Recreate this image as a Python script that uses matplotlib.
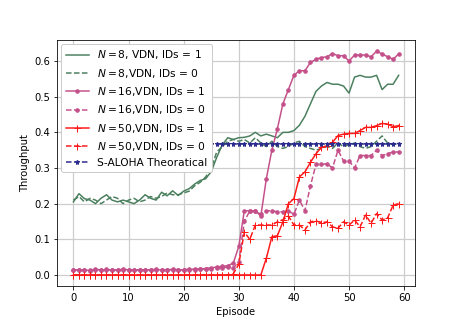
import numpy as np
import matplotlib
matplotlib.use("Agg")
import matplotlib.pyplot as plt

episodes = list(range(60))

n8_ids1 = [0.205, 0.228, 0.214, 0.21, 0.20, 0.215, 0.225, 0.21, 0.205, 0.21,
           0.205, 0.20, 0.21, 0.225, 0.215, 0.21, 0.232, 0.222, 0.236, 0.223,
           0.235, 0.242, 0.255, 0.265, 0.27, 0.29, 0.33, 0.365, 0.385, 0.38,
           0.385, 0.386, 0.39, 0.40, 0.39, 0.395, 0.39, 0.385, 0.40, 0.40,
           0.405, 0.42, 0.445, 0.48, 0.515, 0.53, 0.54, 0.535, 0.535, 0.53,
           0.51, 0.555, 0.56, 0.555, 0.555, 0.56, 0.52, 0.535, 0.535, 0.56]

n8_ids0 = [0.21, 0.22, 0.205, 0.215, 0.21, 0.20, 0.21, 0.22, 0.215, 0.20,
           0.21, 0.215, 0.205, 0.21, 0.22, 0.215, 0.22, 0.23, 0.225, 0.225,
           0.23, 0.235, 0.25, 0.26, 0.275, 0.30, 0.345, 0.36, 0.375, 0.38,
           0.375, 0.38, 0.37, 0.385, 0.37, 0.36, 0.375, 0.36, 0.355, 0.36,
           0.37, 0.375, 0.36, 0.355, 0.35, 0.355, 0.36, 0.355, 0.37, 0.36,
           0.365, 0.37, 0.36, 0.355, 0.36, 0.375, 0.39, 0.37, 0.365, 0.37]

n16_ids1 = [0.015, 0.013, 0.014, 0.012, 0.016, 0.014, 0.013, 0.015, 0.014, 0.016,
            0.014, 0.013, 0.015, 0.014, 0.015, 0.013, 0.015, 0.014, 0.016, 0.015,
            0.014, 0.015, 0.016, 0.017, 0.018, 0.02, 0.022, 0.024, 0.026, 0.033,
            0.08, 0.18, 0.18, 0.18, 0.165, 0.27, 0.35, 0.41, 0.48, 0.52,
            0.56, 0.573, 0.573, 0.596, 0.605, 0.61, 0.612, 0.621, 0.615, 0.615,
            0.60, 0.617, 0.617, 0.617, 0.612, 0.628, 0.62, 0.612, 0.605, 0.62]

n16_ids0 = [0.014, 0.015, 0.013, 0.014, 0.015, 0.014, 0.016, 0.013, 0.014, 0.015,
            0.015, 0.014, 0.013, 0.015, 0.014, 0.016, 0.014, 0.015, 0.014, 0.013,
            0.015, 0.016, 0.015, 0.016, 0.017, 0.018, 0.019, 0.02, 0.022, 0.02,
            0.035, 0.15, 0.18, 0.18, 0.17, 0.18, 0.18, 0.177, 0.177, 0.18,
            0.17, 0.21, 0.18, 0.25, 0.31, 0.31, 0.312, 0.30, 0.35, 0.32,
            0.32, 0.30, 0.335, 0.335, 0.335, 0.35, 0.335, 0.34, 0.345, 0.345]

n50_ids1 = [0.0] * 35 + [0.047, 0.107, 0.11, 0.149, 0.20,
                         0.214, 0.275, 0.289, 0.316, 0.34, 0.358, 0.362, 0.372, 0.391, 0.395,
                         0.397, 0.397, 0.405, 0.414, 0.414, 0.419, 0.425, 0.423, 0.416, 0.419]

n50_ids0 = [0.0] * 29 + [0.003,
                         0.03, 0.12, 0.10, 0.14, 0.14, 0.14, 0.14, 0.149, 0.155, 0.165,
                         0.14, 0.14, 0.126, 0.149, 0.152, 0.146, 0.149, 0.135, 0.131, 0.149,
                         0.14, 0.154, 0.135, 0.168, 0.145, 0.172, 0.154, 0.16, 0.196, 0.2]

saloha = [0.368] * 60

labels = [r'$N=8$, VDN, IDs = 1', r'$N=8$,VDN, IDs = 0',
          r'$N=16$,VDN, IDs = 1', r'$N=16$,VDN, IDs = 0',
          r'$N=50$,VDN, IDs = 1', r'$N=50$,VDN, IDs = 0',
          'S-ALOHA Theoratical']

green = '#4a7f5e'
pink = '#c4508a'
red = '#ff1a1a'
blue = '#2b2b8e'

fig = plt.figure(figsize=(461 / 72, 327 / 72), dpi=72)
ax = fig.add_axes([0.124, 0.125, 0.776, 0.753])

ax.plot(episodes, n8_ids1, color=green, ls='-', lw=1.5, label=labels[0])
ax.plot(episodes, n8_ids0, color=green, ls='--', lw=1.5, label=labels[1])
ax.plot(episodes, n16_ids1, color=pink, ls='-', lw=1.5, marker='o', ms=3.5, label=labels[2])
ax.plot(episodes, n16_ids0, color=pink, ls='--', lw=1.5, marker='o', ms=3.5, label=labels[3])
ax.plot(episodes, n50_ids1, color=red, ls='-', lw=1.5, marker='+', ms=7, label=labels[4])
ax.plot(episodes, n50_ids0, color=red, ls='--', lw=1.5, marker='+', ms=7, label=labels[5])
ax.plot(episodes, saloha, color=blue, ls='--', lw=1.5, marker='*', ms=5, label=labels[6])

ax.set_xticks([0, 10, 20, 30, 40, 50, 60])
ax.set_yticks([0.0, 0.1, 0.2, 0.3, 0.4, 0.5, 0.6])
ax.set_xlabel('Episode')
ax.set_ylabel('Throughput')
ax.grid(True, color='#cccccc', lw=1.2)
ax.set_axisbelow(True)
ax.legend(loc='upper left', framealpha=1.0, fontsize=10.6, handlelength=2.2,
          borderaxespad=0.4)

fig.savefig('out.png', dpi=72)
